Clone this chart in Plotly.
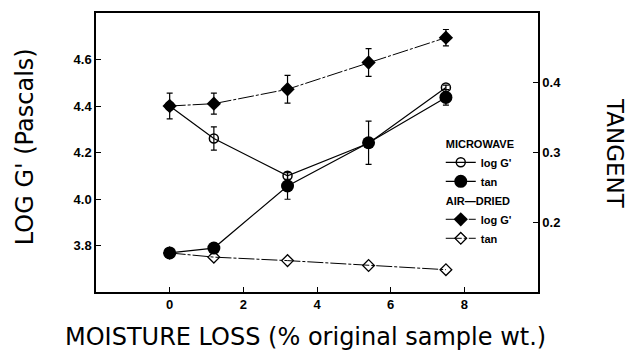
import plotly.graph_objects as go

# Moisture loss (% of original sample weight)
moisture = [0, 1.2, 3.2, 5.4, 7.5]

# Microwave-dried samples
mw_logg = [4.40, 4.26, 4.10, 4.24, 4.48]
mw_logg_err = [0.0, 0.05, 0.015, 0.0, 0.01]
mw_tan = [0.156, 0.163, 0.252, 0.314, 0.379]
mw_tan_err = [0.0, 0.0, 0.019, 0.031, 0.011]

# Air-dried samples
ad_logg = [4.40, 4.41, 4.472, 4.587, 4.694]
ad_logg_err = [0.055, 0.045, 0.06, 0.06, 0.035]
ad_tan = [0.156, 0.150, 0.145, 0.138, 0.132]

x_ticks = [0, 2, 4, 6, 8]
logg_ticks = [3.8, 4.0, 4.2, 4.4, 4.6]
tan_ticks = [0.2, 0.3, 0.4]

BLACK = "black"
AIR_DASH = "16px,2px,3px,2px"

fig = go.Figure()

fig.add_trace(go.Scatter(
    x=moisture, y=ad_tan, yaxis="y2", mode="lines+markers",
    name="tan", legendgroup="air", legendgrouptitle_text="AIR\u2014DRIED",
    line=dict(color=BLACK, width=1, dash=AIR_DASH),
    marker=dict(symbol="diamond-open", size=9, color=BLACK, line=dict(width=1.3)),
    legendrank=4,
))
fig.add_trace(go.Scatter(
    x=moisture, y=ad_logg, mode="lines+markers",
    name="log G'", legendgroup="air", legendgrouptitle_text="AIR\u2014DRIED",
    line=dict(color=BLACK, width=1, dash=AIR_DASH),
    marker=dict(symbol="diamond", size=11, color=BLACK),
    error_y=dict(type="data", array=ad_logg_err, color=BLACK, thickness=1.2, width=3),
    legendrank=3,
))
fig.add_trace(go.Scatter(
    x=moisture, y=mw_logg, mode="lines+markers",
    name="log G'", legendgroup="mw", legendgrouptitle_text="MICROWAVE",
    line=dict(color=BLACK, width=1.2),
    marker=dict(symbol="circle-open", size=9, color=BLACK, line=dict(width=1.5)),
    error_y=dict(type="data", array=mw_logg_err, color=BLACK, thickness=1.2, width=3),
    legendrank=1,
))
fig.add_trace(go.Scatter(
    x=moisture, y=mw_tan, yaxis="y2", mode="lines+markers",
    name="tan", legendgroup="mw", legendgrouptitle_text="MICROWAVE",
    line=dict(color=BLACK, width=1.2),
    marker=dict(symbol="circle", size=13, color=BLACK),
    error_y=dict(type="data", array=mw_tan_err, color=BLACK, thickness=1.2, width=3),
    legendrank=2,
))

tick_font = dict(family="Liberation Sans", size=13, color=BLACK, weight="bold")
title_font = dict(family="DejaVu Sans", size=24, color=BLACK)
side_font = dict(family="DejaVu Sans", size=23, color=BLACK)

fig.update_layout(
    width=629, height=357,
    margin=dict(l=96, r=91, t=11, b=65),
    paper_bgcolor="white", plot_bgcolor="white",
    showlegend=True,
    legend=dict(
        x=0.78, y=0.585, xanchor="left", yanchor="top",
        bgcolor="rgba(0,0,0,0)", borderwidth=0,
        font=dict(family="Liberation Sans", size=11, color=BLACK, weight="bold"),
        grouptitlefont=dict(family="Liberation Sans", size=11, color=BLACK, weight="bold"),
        tracegroupgap=0, itemwidth=30, traceorder="grouped",
    ),
    xaxis=dict(
        range=[-2, 10], tickvals=x_ticks, ticks="inside", ticklen=5,
        tickcolor=BLACK, showline=True, linecolor=BLACK, linewidth=1.5,
        mirror=True, showgrid=False, zeroline=False, tickfont=tick_font,
    ),
    yaxis=dict(
        range=[3.6, 4.8], tickvals=logg_ticks, tickformat=".1f", ticks="inside",
        ticklen=5, tickcolor=BLACK, showline=True, linecolor=BLACK, linewidth=1.5,
        mirror=True, showgrid=False, zeroline=False, tickfont=tick_font,
    ),
    yaxis2=dict(
        range=[0.1, 0.5], tickvals=tan_ticks, tickformat=".1f", ticks="inside",
        ticklen=5, tickcolor=BLACK, overlaying="y", side="right",
        showline=True, linecolor=BLACK, linewidth=1.5, showgrid=False,
        zeroline=False, tickfont=tick_font,
    ),
    annotations=[
        dict(text="MOISTURE LOSS (% original sample wt.)", xref="paper", yref="paper",
             x=0.475, y=-0.16, xanchor="center", yanchor="middle",
             showarrow=False, font=title_font),
        dict(text="LOG G' (Pascals)", textangle=-90, xref="paper", yref="paper",
             x=-0.16, y=0.52, xanchor="center", yanchor="middle",
             showarrow=False, font=title_font),
        dict(text="TANGENT", textangle=90, xref="paper", yref="paper",
             x=1.174, y=0.495, xanchor="center", yanchor="middle",
             showarrow=False, font=side_font),
    ],
)

fig.write_html("out.html")
